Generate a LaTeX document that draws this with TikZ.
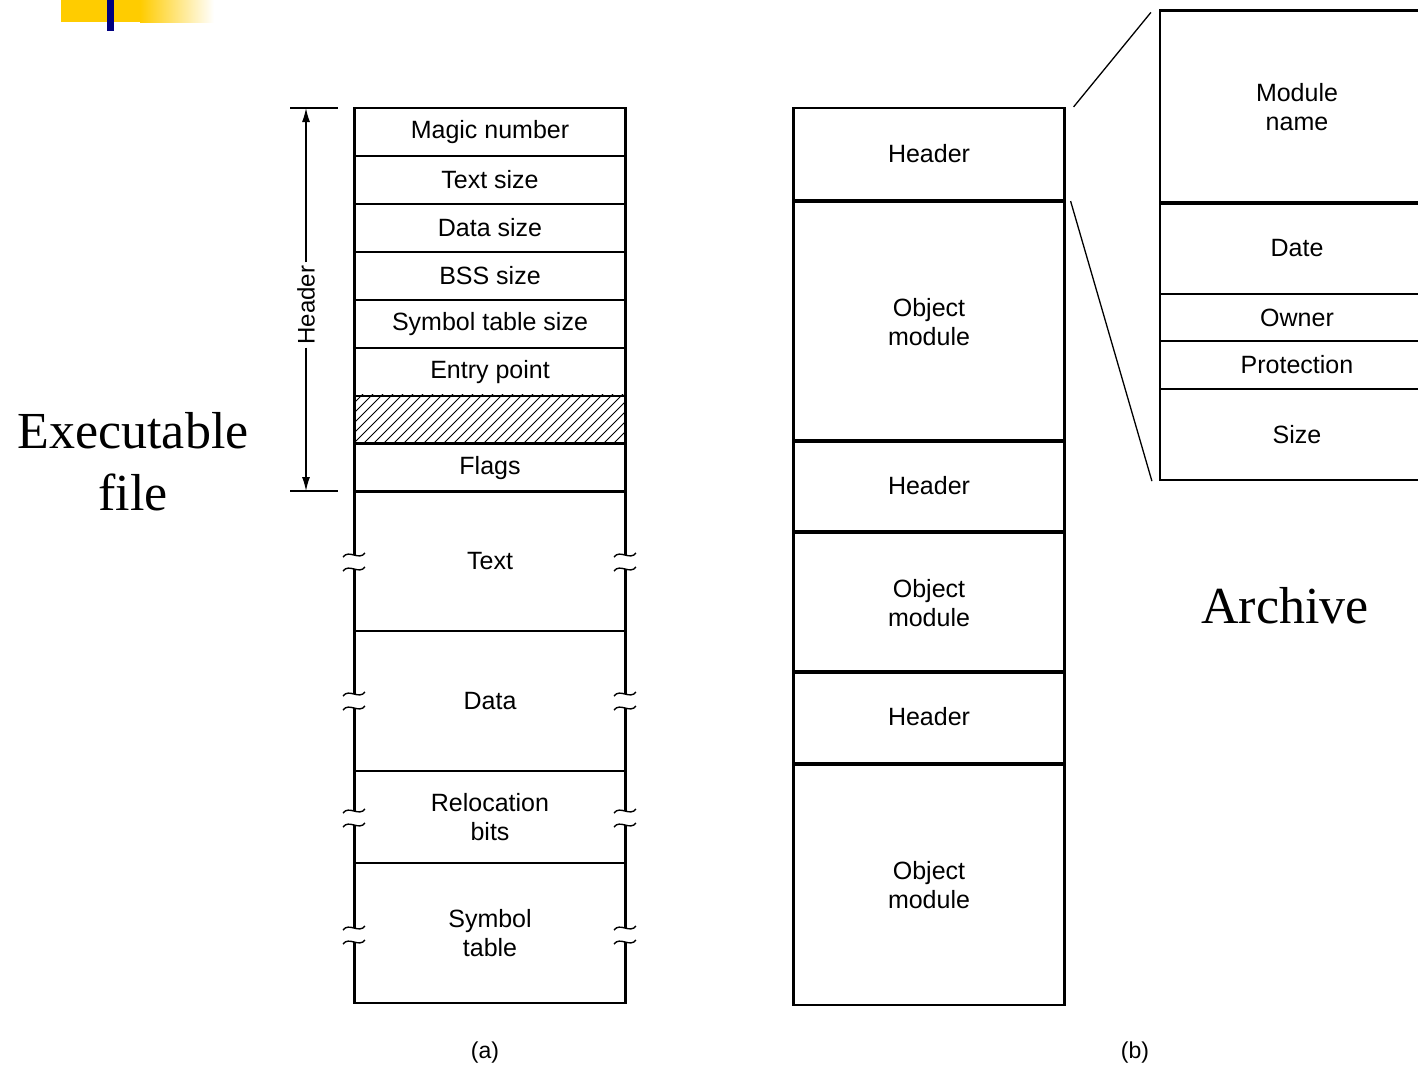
\documentclass[tikz,border=0pt]{standalone}
\usepackage{fontspec}
\setmainfont{Liberation Serif}
\setsansfont{Liberation Sans}
\usetikzlibrary{arrows.meta,calc}
\definecolor{gold}{HTML}{FFCC00}
\definecolor{navybar}{HTML}{000080}
\tikzset{
  cell/.style={draw, line width=2.2pt, minimum width=271pt, inner sep=0pt,
    align=center, font=\sffamily\fontsize{25}{29}\selectfont},
  zcell/.style={cell, minimum width=274pt},
  big/.style={font=\rmfamily\fontsize{52}{62}\selectfont, align=center},
  captext/.style={font=\sffamily\fontsize{23}{26}\selectfont},
  thinline/.style={line width=1.3pt},
  tilde/.style={line width=1.4pt}
}
\begin{document}
\begin{tikzpicture}[x=1pt,y=-1pt]
\useasboundingbox (0,0) rectangle (1418,1069);
\clip (0,0) rectangle (1418,1069);
% top-left decoration
\fill[gold] (61,0) rectangle (141,22);
\shade[left color=gold, right color=white] (140,0) rectangle (214,22);
\fill[navybar] (107,0) rectangle (114,31);

% (a) executable file
\node[cell, minimum height=48pt] (magic) at (490,132) {Magic number};
\node[cell, minimum height=48pt] (tsize) at (490,180) {Text size};
\node[cell, minimum height=48pt] (dsize) at (490,228) {Data size};
\node[cell, minimum height=48pt] (bss) at (490,276) {BSS size};
\node[cell, minimum height=48pt] (stsize) at (490,324) {Symbol table size};
\node[cell, minimum height=48pt] (entry) at (490,372) {Entry point};
\node[cell, minimum height=47pt] (hatch) at (490,419.5) {};
\begin{scope}
  \clip (hatch.south west) rectangle (hatch.north east);
  \foreach \i in {0,...,34} \draw[line width=0.9pt] (304+\i*10,443) -- ++(50,-50);
\end{scope}
\node[cell, minimum height=47pt] at (hatch) {};
\node[cell, minimum height=48pt] (flags) at (490,468) {Flags};
\node[cell, minimum height=140pt] (text) at (490,561) {Text};
\node[cell, minimum height=140pt] (data) at (490,701) {Data};
\node[cell, minimum height=92pt] (reloc) at (490,817) {Relocation\\bits};
\node[cell, minimum height=140pt] (symtab) at (490,933) {Symbol\\table};

% break marks
\foreach \xx in {354,625} {
  \foreach \yy in {562,701,818,935} {
    \fill[white] (\xx-3,\yy-7) rectangle (\xx+3,\yy+7);
    \draw[tilde] (\xx-11,\yy-5) .. controls (\xx-5,\yy-13) and (\xx+5,\yy-1) .. (\xx+11,\yy-9);
    \draw[tilde] (\xx-11,\yy+9) .. controls (\xx-5,\yy+1) and (\xx+5,\yy+13) .. (\xx+11,\yy+5);
  }
}

% header dimension arrow
\coordinate (htop) at (306,108);
\coordinate (hbot) at (306,491);
\draw[thinline] (290,108) -- (338,108);
\draw[thinline] (290,491) -- (338,491);
\node[rotate=90, font=\sffamily\fontsize{24}{27}\selectfont, inner sep=3pt] (hlab) at (306,305) {Header};
\draw[thinline, -{Latex[length=14pt,width=8pt]}] (hlab) -- (htop);
\draw[thinline, -{Latex[length=14pt,width=8pt]}] (hlab) -- (hbot);

\node[big] (exe) at (133,462) {Executable\\file};
\node[captext] (capa) at (485,1053) {(a)};

% (b) archive
\node[cell, minimum height=92pt] (h1) at (929,154) {Header};
\node[cell, minimum height=240pt] (o1) at (929,322) {Object\\module};
\node[cell, minimum height=91pt] (h2) at (929,485.5) {Header};
\node[cell, minimum height=140pt] (o2) at (929,603) {Object\\module};
\node[cell, minimum height=92pt] (h3) at (929,717) {Header};
\node[cell, minimum height=240pt] (o3) at (929,885) {Object\\module};

\node[zcell, minimum height=193pt] (zname) at (1297,107) {Module\\name};
\node[zcell, minimum height=92pt] (zdate) at (1297,248) {Date};
\node[zcell, minimum height=47pt] (zowner) at (1297,317.5) {Owner};
\node[zcell, minimum height=48pt] (zprot) at (1297,365) {Protection};
\node[zcell, minimum height=91pt] (zsize) at (1297,434.5) {Size};

\draw[thinline] ($(h1.north east)+(8,0)$) -- ($(zname.north west)+(-8,3)$);
\draw[thinline] ($(h1.south east)+(5,0)$) -- ($(zsize.south west)+(-7,0)$);

\node[big] (arch) at (1285,606) {Archive};
\node[captext] (capb) at (1135,1053) {(b)};
\end{tikzpicture}
\end{document}
